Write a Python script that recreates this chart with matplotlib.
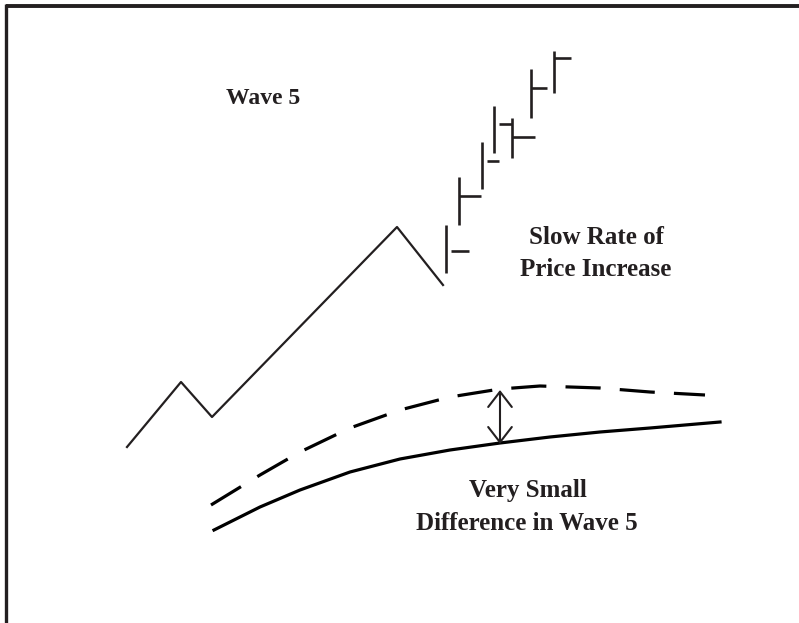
import matplotlib
matplotlib.use("Agg")
import matplotlib.pyplot as plt

# zigzag price path (pixel coords of the original figure)
zig_x = [127, 181, 212, 397, 443]
zig_y = [447, 382, 417, 227, 285]

# price bars: x, low, high, tick y, tick side
bar_x = [446, 459, 482, 494, 512, 531, 554]
bar_lo = [273, 225, 189, 153, 158, 118, 93]
bar_hi = [225, 177, 142, 106, 118, 69, 51]
rtick_y = [251, 196, 161, None, 137, 88, 58]
rtick_x0 = [451, 459, 487, None, 512, 531, 554]
rtick_x1 = [469, 481, 499, None, 535, 547, 571]
ltick_y = [None, None, None, None, 124, None, None]
ltick_x0 = [None, None, None, None, 499, None, None]

# upper (dashed) and lower (solid) curves
dash_x = [211, 260, 300, 350, 400, 450, 500, 540, 600, 650, 705]
dash_y = [505, 475, 452, 428, 410, 397, 389, 386, 388, 392, 395]
solid_x = [214, 260, 300, 350, 400, 450, 500, 550, 600, 650, 720]
solid_y = [530, 507, 490, 472, 459, 450, 443, 437, 432, 428, 422]

fig = plt.figure(figsize=(7.99, 6.23), dpi=100)
ax = fig.add_axes([0, 0, 1, 1])
ax.set_xlim(0, 799)
ax.set_ylim(623, 0)
ax.axis("off")

ink = "#231f20"

# frame (top and left only)
ax.plot([6, 799], [5.5, 5.5], color=ink, lw=2.8, solid_capstyle="butt")
ax.plot([6, 6], [4, 623], color=ink, lw=2.4, solid_capstyle="butt")

ax.plot(zig_x, zig_y, color=ink, lw=1.6)

ax.vlines(bar_x, bar_lo, bar_hi, color=ink, lw=1.9)
for y, x0, x1 in zip(rtick_y, rtick_x0, rtick_x1):
    if y is not None:
        ax.hlines(y, x0, x1, color=ink, lw=1.9)
for y, x0, bx in zip(ltick_y, ltick_x0, bar_x):
    if y is not None:
        ax.hlines(y, x0, bx, color=ink, lw=1.9)

ax.plot(dash_x, dash_y, color="black", lw=2.3, linestyle=(0, (11, 6)))
ax.plot(solid_x, solid_y, color="black", lw=2.3)

ax.annotate("", xy=(500, 390), xytext=(500, 444),
            arrowprops=dict(arrowstyle="<->,head_length=1.1,head_width=0.85",
                            color=ink, lw=1.5, shrinkA=0, shrinkB=0))

font = dict(family="Liberation Serif", weight="bold", color=ink,
            ha="center", va="center")
ax.text(263, 98, "Wave 5", fontsize=17, **font)
ax.text(596, 237, "Slow Rate of", fontsize=18, **font)
ax.text(596, 269, "Price Increase", fontsize=18, **font)
ax.text(528, 491, "Very Small", fontsize=18, **font)
ax.text(527, 523, "Difference in Wave 5", fontsize=18, **font)

fig.savefig("out.png", dpi=100)
